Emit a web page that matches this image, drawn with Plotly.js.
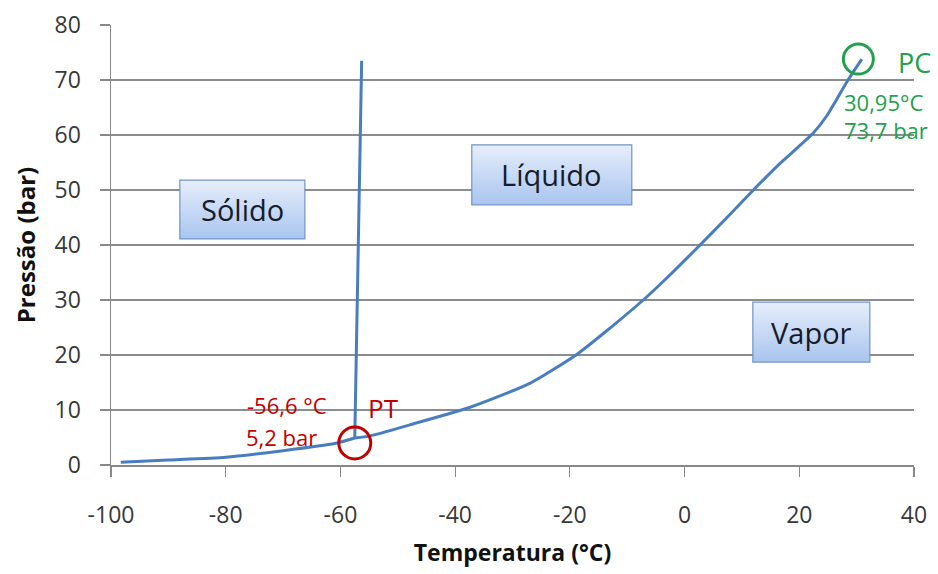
<!DOCTYPE html>
<html>
<head>
<meta charset="utf-8">
<script src="https://cdn.plot.ly/plotly-3.0.1.min.js"></script>
<style>html,body{margin:0;padding:0;background:#fff;}#chart{width:938px;height:574px;}</style>
</head>
<body>
<div id="chart"></div>
<script>
// ---- data ----
const subT = [-98.3, -90, -80, -70, -61, -57.5];
const subP = [0.5, 0.9, 1.4, 2.6, 3.9, 4.9];
const meltT = [-57.5, -56.3];
const meltP = [4.9, 73.5];
const vapT = [-57.5, -54.8, -47.9, -37.4, -26.9, -18.8, -13.0, -7.2, -3.1, 2.7, 7.4, 12.0, 16.6, 22.4, 24.8, 28.5, 30.9];
const vapP = [4.9, 5.3, 7.3, 10.5, 14.9, 20.1, 24.9, 30.0, 34.0, 40.0, 45.0, 50.0, 54.8, 60.3, 63.5, 70.0, 73.8];
const xTickVals = [-100, -80, -60, -40, -20, 0, 20, 40];
const xTickText = ["-100", "-80", "-60", "-40", "-20", "0", "20", "40"];
const yTickVals = [0, 10, 20, 30, 40, 50, 60, 70, 80];
const yTickText = ["0", "10", "20", "30", "40", "50", "60", "70", "80"];
const ptPoint = [-57.5, 4.0];   // triple point marker centre
const pcPoint = [30.3, 73.8];   // critical point marker centre
const ptLabels = ["-56,6 °C", "5,2 bar", "PT"];
const pcLabels = ["PC", "30,95°C", "73,7 bar"];
const phaseNames = ["Sólido", "Líquido", "Vapor"];
// phase boxes in data units
const phaseBoxX0 = [-88.0, -37.1, 11.9];
const phaseBoxX1 = [-66.2, -9.2, 32.3];
const phaseBoxYTop = [51.8, 58.2, 29.6];
const phaseBoxYBot = [41.1, 47.3, 18.7];

const blue = "#4a7dc0";
const red = "#c00000";
const green = "#22a04b";

const traces = [
  {x: subT, y: subP, mode: "lines", line: {color: blue, width: 3, shape: "spline", smoothing: 0.6}, hoverinfo: "skip", showlegend: false},
  {x: meltT, y: meltP, mode: "lines", line: {color: blue, width: 3}, hoverinfo: "skip", showlegend: false},
  {x: vapT, y: vapP, mode: "lines", line: {color: blue, width: 3, shape: "spline", smoothing: 0.6}, hoverinfo: "skip", showlegend: false}
];

const gradSvg = '<svg xmlns="http://www.w3.org/2000/svg" width="100" height="50" preserveAspectRatio="none">' +
  '<defs><linearGradient id="g" x1="0" y1="0" x2="0" y2="1">' +
  '<stop offset="0" stop-color="#e6eefb"/><stop offset="1" stop-color="#a9c5ef"/></linearGradient></defs>' +
  '<rect x="0" y="0" width="100" height="50" fill="url(#g)"/></svg>';
const gradSrc = "data:image/svg+xml;charset=utf-8," + encodeURIComponent(gradSvg);

const images = [];
const shapes = [];
const annotations = [];
const textFont = "Open Sans, Noto Sans, sans-serif";

for (let i = 0; i < phaseNames.length; i++) {
  images.push({
    source: gradSrc, xref: "x", yref: "y",
    x: phaseBoxX0[i], y: phaseBoxYTop[i],
    sizex: phaseBoxX1[i] - phaseBoxX0[i], sizey: phaseBoxYTop[i] - phaseBoxYBot[i],
    xanchor: "left", yanchor: "top", sizing: "stretch", layer: "above"
  });
  shapes.push({
    type: "rect", xref: "x", yref: "y",
    x0: phaseBoxX0[i], x1: phaseBoxX1[i], y0: phaseBoxYBot[i], y1: phaseBoxYTop[i],
    line: {color: "#7093c8", width: 1.2}, fillcolor: "rgba(0,0,0,0)", layer: "above"
  });
  annotations.push({
    xref: "x", yref: "y",
    x: (phaseBoxX0[i] + phaseBoxX1[i]) / 2, y: (phaseBoxYTop[i] + phaseBoxYBot[i]) / 2,
    text: phaseNames[i], showarrow: false,
    font: {family: textFont, size: 29, color: "#161c2c"}
  });
}

// circles
shapes.push({
  type: "circle", xref: "x", yref: "y", xsizemode: "pixel", ysizemode: "pixel",
  xanchor: ptPoint[0], yanchor: ptPoint[1], x0: -16, x1: 16, y0: -16, y1: 16,
  line: {color: red, width: 3}, fillcolor: "rgba(0,0,0,0)", layer: "above"
});
shapes.push({
  type: "circle", xref: "x", yref: "y", xsizemode: "pixel", ysizemode: "pixel",
  xanchor: pcPoint[0], yanchor: pcPoint[1], x0: -15, x1: 15, y0: -15, y1: 15,
  line: {color: green, width: 3}, fillcolor: "rgba(0,0,0,0)", layer: "above"
});

// triple point labels
annotations.push({xref: "x", yref: "y", x: ptPoint[0], y: ptPoint[1], ax: -26, ay: -38,
  text: ptLabels[0], showarrow: true, arrowcolor: "rgba(0,0,0,0)", xanchor: "right", yanchor: "middle",
  font: {family: textFont, size: 22, color: red}});
annotations.push({xref: "x", yref: "y", x: ptPoint[0], y: ptPoint[1], ax: -36, ay: -6,
  text: ptLabels[1], showarrow: true, arrowcolor: "rgba(0,0,0,0)", xanchor: "right", yanchor: "middle",
  font: {family: textFont, size: 22, color: red}});
annotations.push({xref: "x", yref: "y", x: ptPoint[0], y: ptPoint[1], ax: 11, ay: -35,
  text: ptLabels[2], showarrow: true, arrowcolor: "rgba(0,0,0,0)", xanchor: "left", yanchor: "middle",
  font: {family: textFont, size: 26, color: red}});

// critical point labels
annotations.push({xref: "x", yref: "y", x: pcPoint[0], y: pcPoint[1], ax: 38, ay: 3,
  text: pcLabels[0], showarrow: true, arrowcolor: "rgba(0,0,0,0)", xanchor: "left", yanchor: "middle",
  font: {family: textFont, size: 27, color: green}});
annotations.push({xref: "x", yref: "y", x: pcPoint[0], y: pcPoint[1], ax: -16, ay: 43,
  text: pcLabels[1], showarrow: true, arrowcolor: "rgba(0,0,0,0)", xanchor: "left", yanchor: "middle",
  font: {family: textFont, size: 22, color: green}});
annotations.push({xref: "x", yref: "y", x: pcPoint[0], y: pcPoint[1], ax: -16, ay: 71,
  text: pcLabels[2], showarrow: true, arrowcolor: "rgba(0,0,0,0)", xanchor: "left", yanchor: "middle",
  font: {family: textFont, size: 22, color: green}});

const layout = {
  width: 938, height: 574,
  margin: {l: 111, r: 24, t: 25, b: 109},
  paper_bgcolor: "#ffffff", plot_bgcolor: "#ffffff",
  showlegend: false,
  xaxis: {
    range: [-100, 40], tickmode: "array", tickvals: xTickVals, ticktext: xTickText,
    ticks: "outside", ticklen: 10, tickcolor: "#888888", tickwidth: 1.2,
    showline: true, linecolor: "#888888", linewidth: 1.5, showgrid: false, zeroline: false,
    tickfont: {family: textFont, size: 23, color: "#383838"}, ticklabelstandoff: 19,
    title: {text: "<b>Temperatura (°C)</b>", font: {family: textFont, size: 23, color: "#111111"}, standoff: 16}
  },
  yaxis: {
    range: [0, 80], tickmode: "array", tickvals: yTickVals, ticktext: yTickText,
    ticks: "outside", ticklen: 10, tickcolor: "#888888", tickwidth: 1.2,
    showline: true, linecolor: "#888888", linewidth: 1.5, showgrid: true, gridcolor: "#8c8c8c", gridwidth: 1.2,
    zeroline: false,
    tickfont: {family: textFont, size: 23, color: "#383838"}, ticklabelstandoff: 14,
    title: {text: "<b>Pressão (bar)</b>", font: {family: textFont, size: 24, color: "#111111"}, standoff: 12}
  },
  images: images, shapes: shapes, annotations: annotations
};

Plotly.newPlot("chart", traces, layout, {staticPlot: true, displayModeBar: false});
</script>
</body>
</html>
